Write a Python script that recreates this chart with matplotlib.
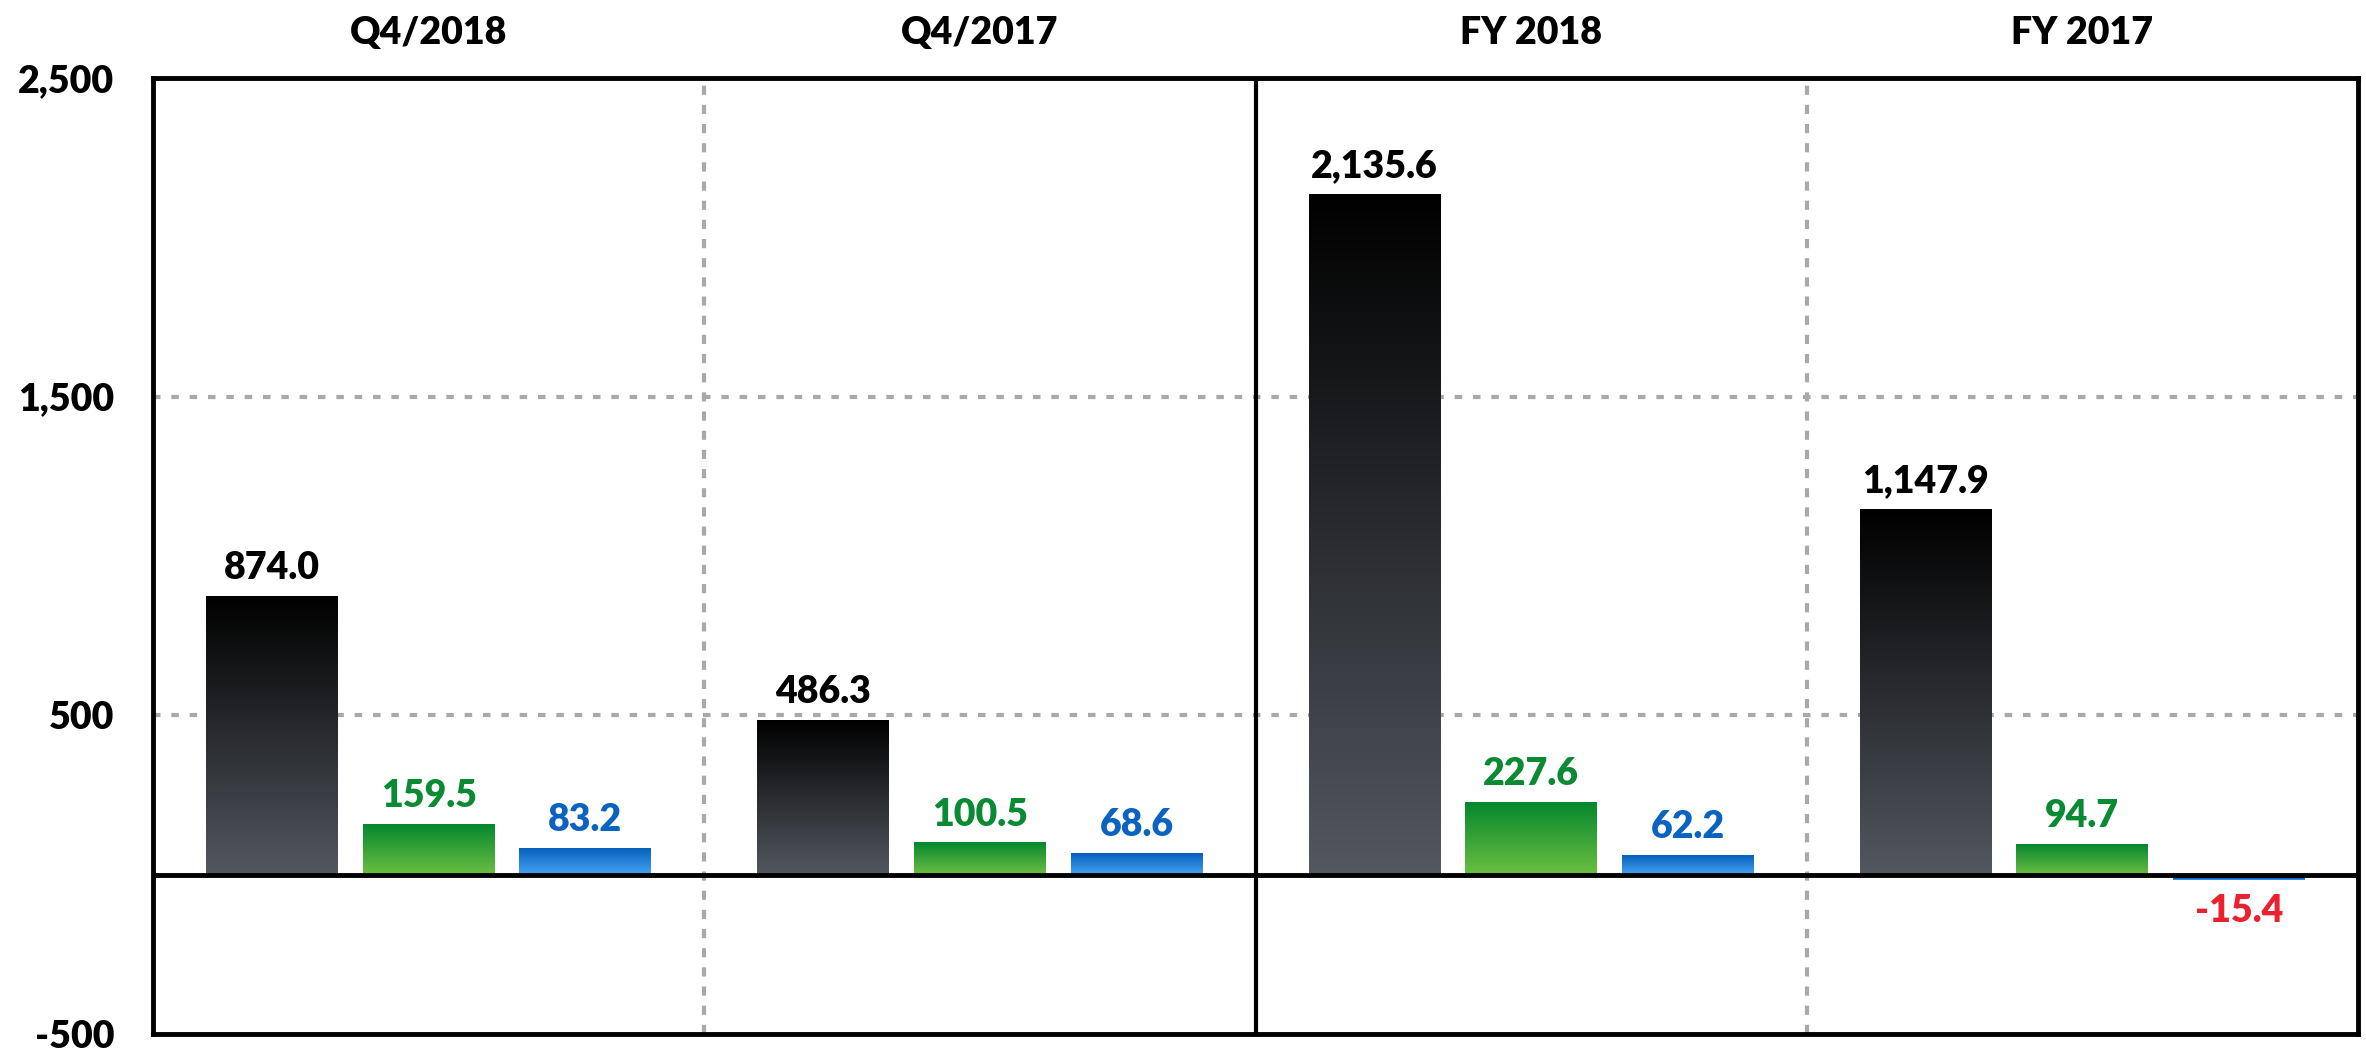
import numpy as np
import matplotlib
matplotlib.use("Agg")
import matplotlib.pyplot as plt
from matplotlib.colors import LinearSegmentedColormap

periods = ["Q4/2018", "Q4/2017", "FY 2018", "FY 2017"]
revenue = [874.0, 486.3, 2135.6, 1147.9]
ebitda = [159.5, 100.5, 227.6, 94.7]
net_income = [83.2, 68.6, 62.2, -15.4]
yticks = [-500, 500, 1500, 2500]
ytick_labels = ["-500", "500", "1,500", "2,500"]

series = [
    (revenue, ("#000000", "#53575f"), "#000000"),
    (ebitda, ("#05872d", "#6cbf42"), "#0a8a32"),
    (net_income, ("#0560bd", "#48a4f2"), "#0a63c0"),
]

plt.rcParams['font.family'] = ['Lato', 'DejaVu Sans']
fig = plt.figure(figsize=(23.66, 10.53), dpi=100)
ax = fig.add_axes([0.0647, 0.018, 0.9319, 0.908])

ax.set_xlim(-0.5, len(periods) - 0.5)
ax.set_ylim(-500, 2500)

offset = 0.284
width = 0.239
fs = 27
fw = 'heavy'

for si, (vals, (ctop, cbot), lcol) in enumerate(series):
    cmap = LinearSegmentedColormap.from_list("g%d" % si, [cbot, ctop])
    grad = np.linspace(1, 0, 256).reshape(-1, 1)
    for i, v in enumerate(vals):
        xc = i + (si - 1) * offset
        x0, x1 = xc - width / 2, xc + width / 2
        y0, y1 = (0, v) if v >= 0 else (v, 0)
        if v >= 0:
            ax.imshow(grad, extent=[x0, x1, y0, y1], aspect='auto', cmap=cmap,
                      vmin=0, vmax=1, zorder=3, interpolation='bicubic', origin='upper')
            ax.text(xc, v + 35, f"{v:,.1f}", ha='center', va='bottom', fontsize=fs,
                    fontweight=fw, color=lcol, zorder=5)
        else:
            ax.imshow(grad, extent=[x0, x1, y0, y1], aspect='auto', cmap=cmap,
                      vmin=0, vmax=0.3, zorder=3, interpolation='bicubic', origin='upper')
            ax.text(xc, v - 45, f"{v:,.1f}", ha='center', va='top', fontsize=fs,
                    fontweight=fw, color="#ea2230", zorder=5)

ax.set_xlim(-0.5, len(periods) - 0.5)
ax.set_ylim(-500, 2500)

# grid
for y in [500, 1500]:
    ax.axhline(y, color="#a9a9a9", lw=3, ls=(0, (1.8, 2.6)), zorder=1)
for xs, solid in [(0.5, False), (1.5, True), (2.5, False)]:
    if solid:
        ax.axvline(xs, color="black", lw=3, zorder=2)
    else:
        ax.axvline(xs, color="#a9a9a9", lw=3, ls=(0, (2.2, 2.4)), zorder=1)
ax.axhline(0, color="black", lw=3.5, zorder=4)

for s in ax.spines.values():
    s.set_linewidth(3.5)
    s.set_color("black")

ax.set_xticks([])
ax.set_yticks(yticks)
ax.set_yticklabels(ytick_labels, fontsize=fs, fontweight=fw)
ax.tick_params(axis='y', length=0, pad=28)

for i, p in enumerate(periods):
    ax.text(i, 1.0 + 45 / 956, p, transform=ax.get_xaxis_transform(), ha='center',
            va='center', fontsize=fs, fontweight=fw, color='black')

fig.savefig("out.png", dpi=100)
